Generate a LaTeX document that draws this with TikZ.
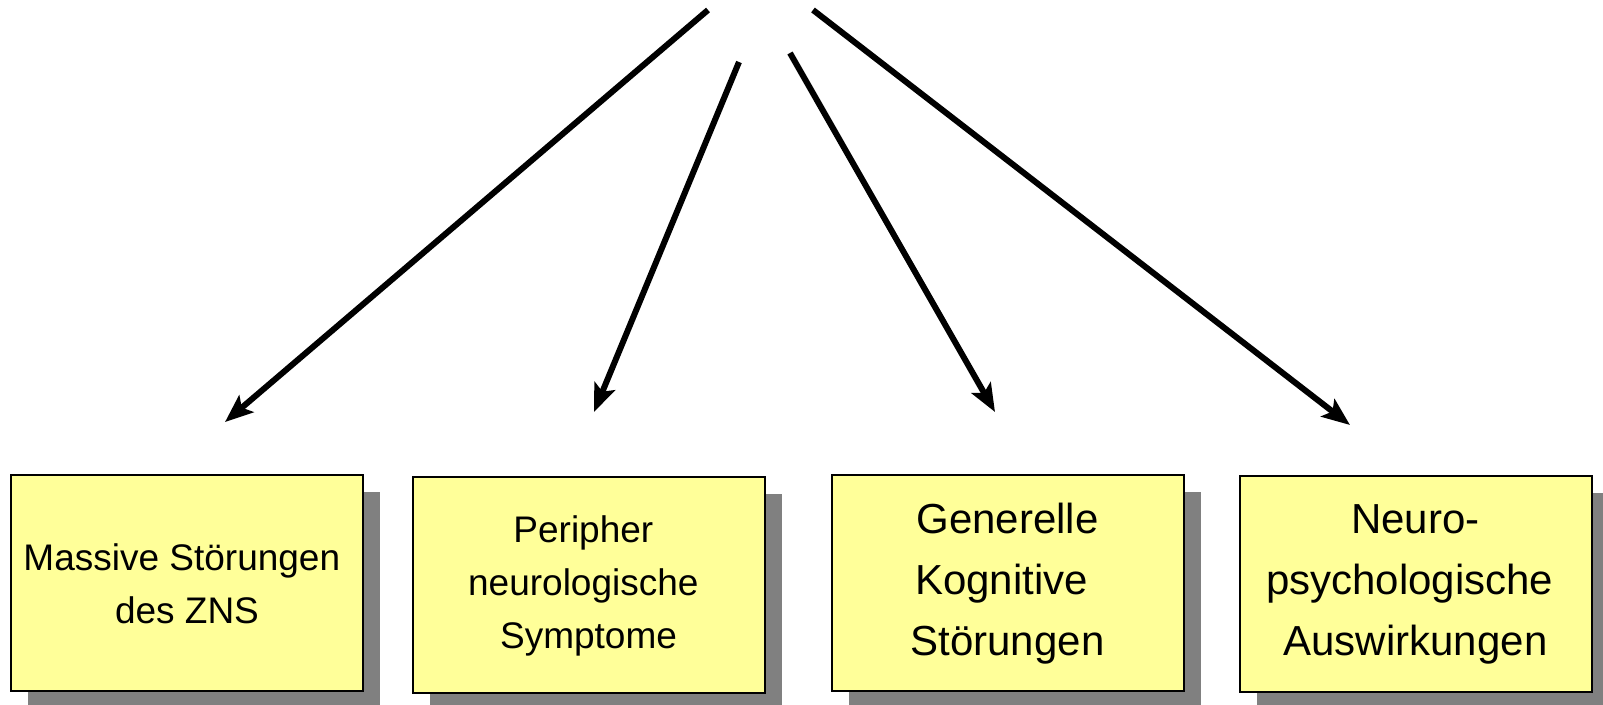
\documentclass[tikz,border=0pt]{standalone}
\usepackage{fontspec}
\setmainfont{Liberation Sans}
\usetikzlibrary{arrows.meta,shadows}
\definecolor{boxyellow}{HTML}{FFFF99}
\definecolor{shadowgray}{HTML}{808080}
\newcommand{\trsp}{\kern0.278em}
\tikzset{
  catbox/.style={draw=black, line width=1pt, fill=boxyellow, minimum width=176pt, minimum height=108pt,
    inner sep=0pt, align=center,
    drop shadow={shadow xshift=8.5pt, shadow yshift=-8.5pt, fill=shadowgray, opacity=1}},
  smalltext/.style={font=\fontsize{18.5pt}{26.5pt}\selectfont},
  bigtext/.style={font=\fontsize{21pt}{30.5pt}\selectfont},
  link/.style={line width=3pt, -{Stealth[length=14pt,width=11pt,inset=3pt]}}
}
\begin{document}
\begin{tikzpicture}[x=0.5pt,y=-0.5pt]
\useasboundingbox (0,0) rectangle (1603,705);
% boxes
\node[catbox, smalltext] (b1) at (187,583.5) {Massive Störungen\trsp\\des ZNS};
\node[catbox, smalltext] (b2) at (588.5,585.5) {Peripher\trsp\\neurologische\trsp\\Symptome};
\node[catbox, bigtext] (b3) at (1007.5,583.5) {Generelle\\Kognitive\trsp\\Störungen};
\node[catbox, bigtext] (b4) at (1415.5,584.5) {Neuro-\\psychologische\trsp\\Auswirkungen};
% arrow ends
\coordinate (s1) at (708,10);
\coordinate (s2) at (739,62);
\coordinate (s3) at (790,53);
\coordinate (s4) at (813,10);
\coordinate (t1) at (225,422);
\coordinate (t2) at (594,412);
\coordinate (t3) at (995,412);
\coordinate (t4) at (1350,425);
\draw[link] (s1) -- (t1);
\draw[link] (s2) -- (t2);
\draw[link] (s3) -- (t3);
\draw[link] (s4) -- (t4);
\end{tikzpicture}
\end{document}
